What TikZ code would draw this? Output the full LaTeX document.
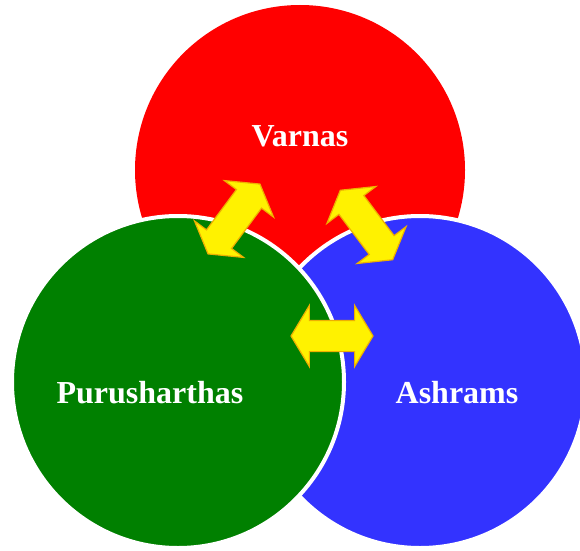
\documentclass[tikz,border=0pt]{standalone}
\usepackage{fontspec}
\setmainfont{Liberation Serif}
\usetikzlibrary{shapes.arrows}

\definecolor{varnasred}{RGB}{255,0,0}
\definecolor{purugreen}{RGB}{0,128,0}
\definecolor{ashblue}{RGB}{51,51,255}
\definecolor{rimgold}{RGB}{238,176,0}

\begin{document}
\begin{tikzpicture}[x=1pt,y=1pt,
  circ/.style={draw=white,line width=4pt},
  lab/.style={text=white,font=\fontsize{32}{32}\selectfont\bfseries},
  dbl/.style={double arrow,draw=rimgold,fill=yellow,line width=1.2pt,
    inner xsep=0pt,inner ysep=15pt,double arrow head extend=15pt,
    double arrow tip angle=118}]
  \useasboundingbox (0,0) rectangle (580,550);
  \clip (0,0) rectangle (580,550);
  % the three circles, red at the back
  \fill[varnasred] (300,380) circle (165);
  \draw[circ,fill=ashblue] (420,168) circle (166);
  \draw[circ,fill=purugreen] (178,168) circle (166);
  % labels
  \node[lab] (varnas) at (300,414) {Varnas};
  \node[lab] (purusharthas) at (150,157) {Purusharthas};
  \node[lab] (ashrams) at (457,157) {Ashrams};
  % double arrows between them
  \node[dbl,minimum height=87pt,rotate=53.4] (arrVP) at (234,331) {};
  \node[dbl,minimum height=87pt,rotate=-53] (arrVA) at (366.5,325) {};
  \node[dbl,minimum height=82pt] (arrPA) at (332,214) {};
\end{tikzpicture}
\end{document}
